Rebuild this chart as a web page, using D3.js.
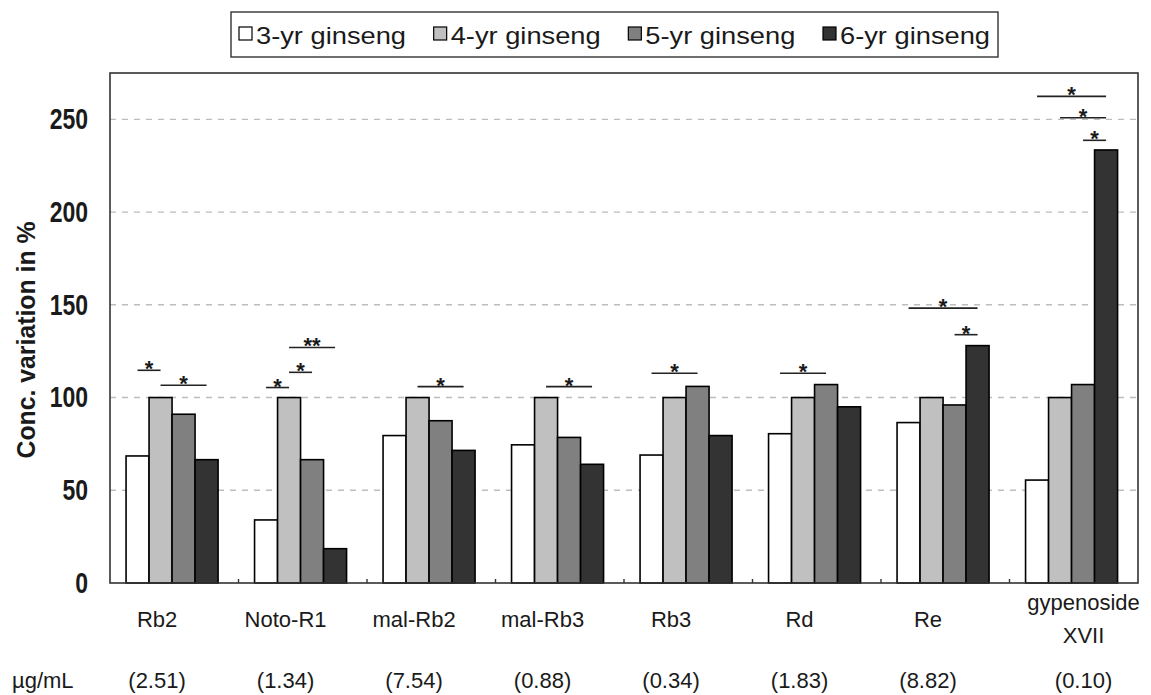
<!DOCTYPE html>
<html>
<head>
<meta charset="utf-8">
<script src="https://cdn.jsdelivr.net/npm/d3@7"></script>
<style>
  html, body { margin: 0; padding: 0; background: #fff; }
  svg { display: block; }
  text { font-family: "Liberation Sans", Arial, sans-serif; fill: #1a1a1a; }
</style>
</head>
<body>
<svg id="chart" width="1151" height="695"></svg>
<script>
// Ginsenoside concentration by cultivation age, relative to 4-yr ginseng (=100 %)
const categories = ["Rb2", "Noto-R1", "mal-Rb2", "mal-Rb3", "Rb3", "Rd", "Re", "gypenoside XVII"];
const categoryLines = [["Rb2"], ["Noto-R1"], ["mal-Rb2"], ["mal-Rb3"], ["Rb3"], ["Rd"], ["Re"], ["gypenoside", "XVII"]];
const concentrations = ["(2.51)", "(1.34)", "(7.54)", "(0.88)", "(0.34)", "(1.83)", "(8.82)", "(0.10)"];
const concUnit = "µg/mL";

const seriesNames = ["3-yr ginseng", "4-yr ginseng", "5-yr ginseng", "6-yr ginseng"];
const seriesColors = ["#ffffff", "#c0c0c0", "#808080", "#333333"];

const yr3 = [68.5, 34, 79.5, 74.5, 69, 80.5, 86.5, 55.5];
const yr4 = [100, 100, 100, 100, 100, 100, 100, 100];
const yr5 = [91, 66.5, 87.5, 78.5, 106, 107, 96, 107];
const yr6 = [66.5, 18.5, 71.5, 64, 79.5, 95, 128, 233.5];
const seriesValues = [yr3, yr4, yr5, yr6];

const yTicks = [0, 50, 100, 150, 200, 250];
const yLabel = "Conc. variation in %";

// Significance brackets: category, first and last series index, bracket level (%), marker
const sigCategory = ["Rb2", "Rb2", "Noto-R1", "Noto-R1", "Noto-R1", "mal-Rb2", "mal-Rb3", "Rb3", "Rd", "Re", "Re", "gypenoside XVII", "gypenoside XVII", "gypenoside XVII"];
const sigFrom     = [0, 1, 0, 1, 1, 1, 1, 0, 0, 0, 2, 0, 1, 2];
const sigTo       = [1, 3, 1, 2, 3, 3, 3, 2, 2, 3, 3, 3, 3, 3];
const sigLevel    = [114.7, 106.6, 105.4, 113.6, 127, 105.9, 105.9, 113.1, 113.1, 148.2, 133.9, 262.4, 250.9, 238.7];
const sigMark     = ["*", "*", "*", "*", "**", "*", "*", "*", "*", "*", "*", "*", "*", "*"];

const svg = d3.select("#chart");
const plot = { left: 110, right: 1138, top: 73, bottom: 583 };

const x = d3.scaleBand()
  .domain(categories)
  .range([plot.left, plot.right])
  .paddingInner(0.284)
  .paddingOuter(0.142)
  .align(0.44);
const xs = d3.scaleBand().domain(d3.range(seriesNames.length)).range([0, x.bandwidth()]);
const y = d3.scaleLinear().domain([0, 275]).range([plot.bottom, plot.top]);

// dashed gridlines
svg.append("g")
  .selectAll("line")
  .data(yTicks.filter(t => t > 0))
  .join("line")
  .attr("x1", plot.left).attr("x2", plot.right)
  .attr("y1", d => y(d)).attr("y2", d => y(d))
  .attr("stroke", "#bdbdbd")
  .attr("stroke-width", 1.4)
  .attr("stroke-dasharray", "6,6");

// bars
const groups = svg.append("g")
  .selectAll("g")
  .data(categories)
  .join("g")
  .attr("transform", d => `translate(${x(d)},0)`);

groups.selectAll("rect")
  .data((c, ci) => seriesValues.map((vals, si) => ({ si, v: vals[ci] })))
  .join("rect")
  .attr("x", d => xs(d.si))
  .attr("width", xs.bandwidth())
  .attr("y", d => y(d.v))
  .attr("height", d => y(0) - y(d.v))
  .attr("fill", d => seriesColors[d.si])
  .attr("stroke", "#000")
  .attr("stroke-width", 1.6);

// significance brackets
const sig = sigCategory.map((c, i) => ({ c, from: sigFrom[i], to: sigTo[i], level: sigLevel[i], mark: sigMark[i] }));
const sigG = svg.append("g");
sig.forEach(s => {
  const xa = x(s.c) + xs(s.from) + xs.bandwidth() / 2;
  const xb = x(s.c) + xs(s.to) + xs.bandwidth() / 2;
  const yy = y(s.level);
  sigG.append("line")
    .attr("x1", xa).attr("x2", xb)
    .attr("y1", yy).attr("y2", yy)
    .attr("stroke", "#222").attr("stroke-width", 1.6);
  sigG.append("text")
    .attr("x", (xa + xb) / 2)
    .attr("y", yy + 6)
    .attr("text-anchor", "middle")
    .style("font-size", "22px")
    .style("font-weight", "bold")
    .text(s.mark);
});

// plot frame
svg.append("rect")
  .attr("x", plot.left).attr("y", plot.top)
  .attr("width", plot.right - plot.left).attr("height", plot.bottom - plot.top)
  .attr("fill", "none").attr("stroke", "#333").attr("stroke-width", 1.6);

// inward ticks between categories
svg.append("g")
  .selectAll("line")
  .data(d3.range(1, categories.length))
  .join("line")
  .attr("x1", i => plot.left + i * x.step()).attr("x2", i => plot.left + i * x.step())
  .attr("y1", plot.bottom).attr("y2", plot.bottom - 4)
  .attr("stroke", "#333").attr("stroke-width", 1.4);

// y axis labels
const yAxis = svg.append("g")
  .attr("transform", `translate(${plot.left},0)`)
  .call(d3.axisLeft(y).tickValues(yTicks).tickSize(0).tickPadding(22));
yAxis.select(".domain").remove();
yAxis.selectAll("text")
  .style("font-family", "'Liberation Sans', Arial, sans-serif")
  .style("font-size", "23px")
  .style("font-weight", "bold")
  .attr("fill", "#111")
  .attr("transform", "scale(1,1.27)");

svg.append("text")
  .attr("transform", "translate(35,340) rotate(-90)")
  .attr("text-anchor", "middle")
  .style("font-size", "25px")
  .style("font-weight", "bold")
  .attr("textLength", 237)
  .attr("lengthAdjust", "spacingAndGlyphs")
  .text(yLabel);

// category labels (single-line labels sit left of centre, wrapped ones right of it)
categories.forEach((c, i) => {
  const lines = categoryLines[i];
  const cx = x(c) + x.bandwidth() / 2 + (lines.length > 1 ? 12 : -15);
  const t = svg.append("text")
    .attr("x", cx)
    .attr("text-anchor", "middle")
    .style("font-size", "22px");
  if (lines.length > 1) {
    lines.forEach((ln, k) => {
      t.append("tspan").attr("x", cx).attr("y", 610 + k * 33).text(ln);
    });
  } else {
    t.attr("y", 627).text(lines[0]);
  }
  svg.append("text")
    .attr("x", cx)
    .attr("y", 688)
    .attr("text-anchor", "middle")
    .style("font-size", "22px")
    .text(concentrations[i]);
});

svg.append("text")
  .attr("x", 12).attr("y", 688)
  .style("font-size", "22px")
  .text(concUnit);

// legend
const legend = svg.append("g");
legend.append("rect")
  .attr("x", 231).attr("y", 12)
  .attr("width", 767).attr("height", 45)
  .attr("fill", "#fff").attr("stroke", "#333").attr("stroke-width", 1.4);
const lx = d3.scalePoint().domain(seriesNames).range([239, 823]);
seriesNames.forEach((name, i) => {
  const gx = lx(name);
  legend.append("rect")
    .attr("x", gx).attr("y", 27)
    .attr("width", 13).attr("height", 13)
    .attr("fill", seriesColors[i]).attr("stroke", "#000").attr("stroke-width", 1.2);
  legend.append("text")
    .attr("x", gx + 17).attr("y", 44)
    .style("font-size", "24px")
    .attr("textLength", 150)
    .attr("lengthAdjust", "spacingAndGlyphs")
    .text(name);
});
</script>
</body>
</html>
